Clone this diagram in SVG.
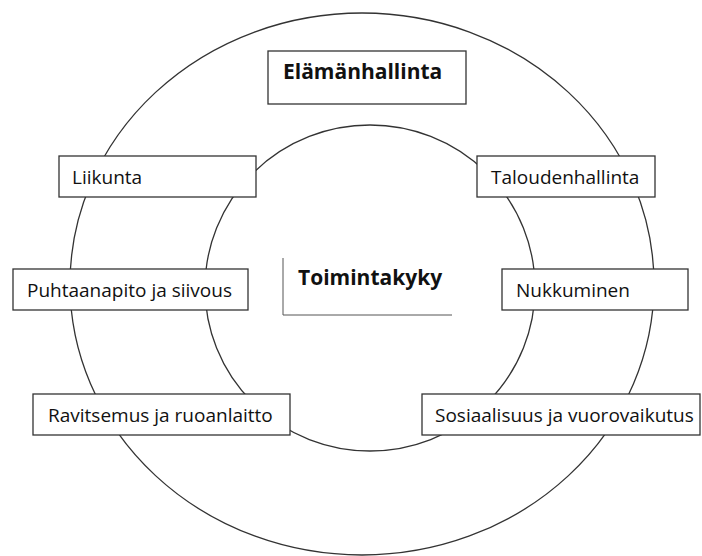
<svg xmlns="http://www.w3.org/2000/svg" width="702" height="556" viewBox="0 0 702 556">
<style>
.ring{fill:none;stroke:#333;stroke-width:1.3}
.box{fill:#fff;stroke:#333;stroke-width:1.3}
.t{font-family:"Open Sans","Liberation Sans",sans-serif;font-size:19px;fill:#111}
.b{font-family:"Open Sans","Liberation Sans",sans-serif;font-size:21px;font-weight:bold;fill:#111}
</style>
<rect width="702" height="556" fill="#fff"/>
<g id="connectors">
<ellipse class="ring" cx="362" cy="284" rx="292" ry="271"/>
<ellipse class="ring" cx="370" cy="288" rx="165" ry="163"/>
</g>
<g id="elamanhallinta"><rect class="box" x="268" y="51" width="198" height="53"/><text class="b" x="283" y="79">Elämänhallinta</text></g>
<g id="toimintakyky"><path d="M283,258 V315 H452" fill="none" stroke="#555" stroke-width="1"/><text class="b" x="298" y="285">Toimintakyky</text></g>
<g id="liikunta"><rect class="box" x="59" y="156" width="197" height="41"/><text class="t" x="72" y="184">Liikunta</text></g>
<g id="taloudenhallinta"><rect class="box" x="477" y="156" width="178" height="41"/><text class="t" x="491" y="184">Taloudenhallinta</text></g>
<g id="puhtaanapito"><rect class="box" x="13" y="269" width="235" height="41"/><text class="t" x="27" y="297">Puhtaanapito ja siivous</text></g>
<g id="nukkuminen"><rect class="box" x="502" y="269" width="186" height="41"/><text class="t" x="516" y="297">Nukkuminen</text></g>
<g id="ravitsemus"><rect class="box" x="33" y="394" width="257" height="41"/><text class="t" x="48" y="422">Ravitsemus ja ruoanlaitto</text></g>
<g id="sosiaalisuus"><rect class="box" x="422" y="394" width="278" height="41"/><text class="t" x="435" y="422">Sosiaalisuus ja vuorovaikutus</text></g>
</svg>
